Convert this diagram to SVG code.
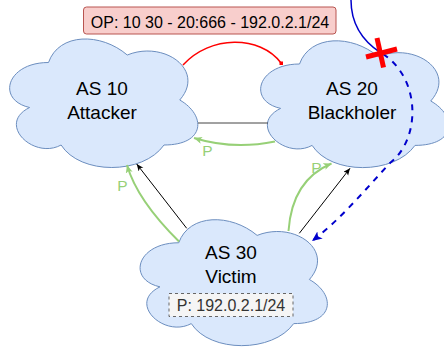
<svg xmlns="http://www.w3.org/2000/svg" width="444" height="350" viewBox="0 0 444 350">
<style>
.cloud{fill:#dae8fc;stroke:#6c8ebf;stroke-width:1}
.t{font-family:"Liberation Sans",Arial,Helvetica,sans-serif;text-anchor:middle}
.big{font-size:19px;fill:#000}
.lbl{font-size:16px}
.p{font-size:15.5px;fill:#97D077}
.green{fill:none;stroke:#97D077;stroke-width:2}
.blk{fill:none;stroke:#000;stroke-width:1}
</style>
<defs>
<marker id="ag" markerUnits="userSpaceOnUse" markerWidth="12" markerHeight="12" refX="8" refY="3.5" orient="auto">
<path d="M0,0 L8,3.5 L0,7 L2,3.5 Z" fill="#97D077"/>
</marker>
<marker id="ak" markerUnits="userSpaceOnUse" markerWidth="12" markerHeight="12" refX="7" refY="3" orient="auto">
<path d="M0,0 L7,3 L0,6 L1.8,3 Z" fill="#000"/>
</marker>
<marker id="ab" markerUnits="userSpaceOnUse" markerWidth="14" markerHeight="14" refX="10" refY="4.5" orient="auto">
<path d="M0,0 L10,4.5 L0,9 L2.5,4.5 Z" fill="#0000CC"/>
</marker>
</defs>
<g id="op-label">
<rect x="83.5" y="7" width="252.5" height="27" rx="3" fill="#f8cecc" stroke="#b85450"/>
<text class="t lbl" x="210" y="28" fill="#000">OP: 10 30 - 20:666 - 192.0.2.1/24</text>
</g>
<g id="as10">
<path class="cloud" d="M48.5,62.5 C6.5,62.5 -4,100 29.6,107.5 C-4,124 33.8,160 61.1,145 C80,175 143,175 164,145 C206,145 206,115 179.75,100 C206,70 164,40 127.25,55 C101,32.5 59,32.5 48.5,62.5 Z"/>
<text class="t big" x="102" y="95">AS 10</text>
<text class="t big" x="102" y="118.5">Attacker</text>
</g>
<g id="as20">
<path class="cloud" d="M299.5,64 C257.5,64 247,101 280.6,108.4 C247,124.7 284.8,160.2 312.1,145.4 C331,175 394,175 415,145.4 C457,145.4 457,115.8 430.75,101 C457,71.4 415,41.8 378.25,56.6 C352,34.4 310,34.4 299.5,64 Z"/>
<text class="t big" x="352" y="95">AS 20</text>
<text class="t big" x="352" y="118.5">Blackholer</text>
</g>
<g id="as30">
<path class="cloud" d="M178.75,242.75 C136.95,242.75 126.5,279.5 159.94,286.85 C126.5,303.02 164.12,338.3 191.29,323.6 C210.1,353 272.8,353 293.7,323.6 C335.5,323.6 335.5,294.2 309.375,279.5 C335.5,250.1 293.7,220.7 257.125,235.4 C231,213.35 189.2,213.35 178.75,242.75 Z"/>
<text class="t big" x="231" y="259">AS 30</text>
<text class="t big" x="231" y="283">Victim</text>
<rect x="169" y="293.5" width="124" height="23" fill="#f5f5f5" stroke="#666" stroke-dasharray="3 3"/>
<text class="t lbl" x="231" y="311" fill="#333">P: 192.0.2.1/24</text>
</g>
<g id="connectors">
<path d="M183,65 C210,35 260,35 281,63" fill="none" stroke="#FF0000" stroke-width="1.5"/>
<rect x="279.5" y="61.5" width="3.5" height="3.5" fill="#FF0000"/>
<line x1="198" y1="123" x2="268" y2="123" stroke="#444" stroke-width="1"/>
<path class="green" d="M275,141.5 Q233,150 194,138" marker-end="url(#ag)"/>
<text class="t p" x="207.5" y="156">P</text>
<path class="green" d="M179,241.5 Q137,200 127,165" marker-end="url(#ag)"/>
<text class="t p" x="122.3" y="190.5">P</text>
<line class="blk" x1="186.7" y1="228.3" x2="136.7" y2="164" marker-end="url(#ak)"/>
<path class="green" d="M288.5,231 Q292,180 331.5,163.5" marker-end="url(#ag)"/>
<text class="t p" x="316.5" y="173.3">P</text>
<line class="blk" x1="299.3" y1="233.3" x2="350" y2="168.3" marker-end="url(#ak)"/>
<path d="M351,0 C351,25 364,42 381,53" fill="none" stroke="#0000CC" stroke-width="1.5"/>
<path d="M383,54 C422,80 420,140 390,163 C365,190 340,220 312,241" fill="none" stroke="#0000CC" stroke-width="2" stroke-dasharray="6 6" marker-end="url(#ab)"/>
</g>
<g id="block-x">
<line x1="377" y1="38" x2="383.5" y2="67.5" stroke="#FF0000" stroke-width="5"/>
<line x1="366" y1="57" x2="397" y2="49" stroke="#FF0000" stroke-width="5"/>
</g>
</svg>
